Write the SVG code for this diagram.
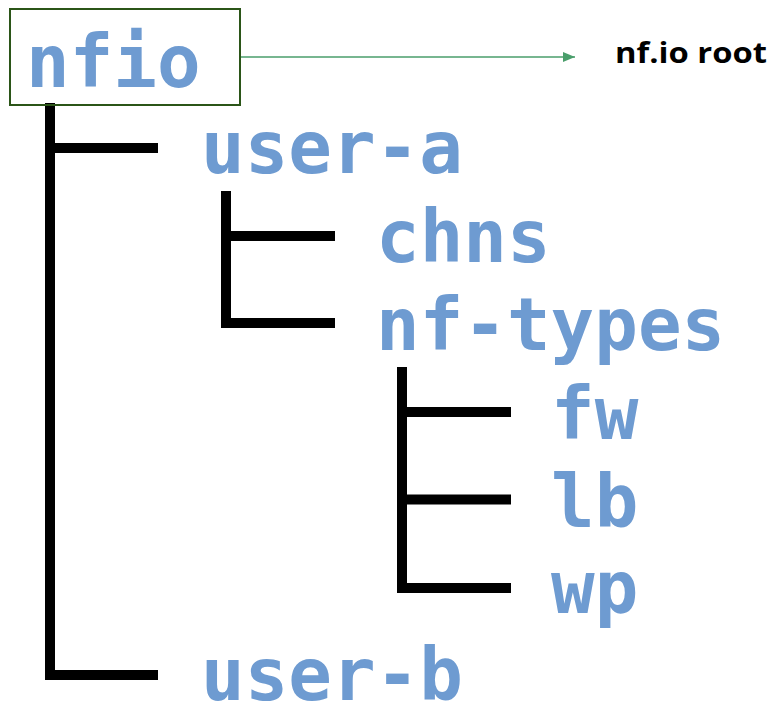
<svg xmlns="http://www.w3.org/2000/svg" width="773" height="705" viewBox="0 0 773 705">
<style>
.t{font-family:"DejaVu Sans Mono","Liberation Mono",monospace;font-weight:bold;font-size:72.5px;fill:#6e9bd1}
.br{fill:none;stroke:#000;stroke-width:10;stroke-linecap:butt;stroke-linejoin:miter}
.lbl{font-family:"Open Sans","Liberation Sans",sans-serif;font-weight:bold;font-size:29px;fill:#000}
</style>
<defs>
<marker id="ah" viewBox="0 0 12 10" refX="12" refY="5" markerWidth="12" markerHeight="10" markerUnits="userSpaceOnUse" orient="auto">
<path d="M0,0 L12,5 L0,10 Z" fill="#4a9e6b"/>
</marker>
</defs>
<rect width="773" height="705" fill="#fff"/>
<g id="connectors">
<path class="br" d="M50,103 V675 H158 M50,148 H158"/>
<path class="br" d="M226,191 V323 H335 M226,236 H335"/>
<path class="br" d="M402,367 V588 H511 M402,412 H511 M402,499.5 H511"/>
<line x1="241" y1="57" x2="575" y2="57" stroke="#4a9e6b" stroke-width="1.6" marker-end="url(#ah)"/>
</g>
<g id="nfio">
<rect x="10" y="9" width="230" height="96" fill="none" stroke="#2b5518" stroke-width="2"/>
<text class="t" x="26" y="87">nfio</text>
</g>
<g id="user-a"><text class="t" x="201" y="173">user-a</text></g>
<g id="chns"><text class="t" x="376" y="262">chns</text></g>
<g id="nf-types"><text class="t" x="376" y="350">nf-types</text></g>
<g id="fw"><text class="t" x="551" y="439">fw</text></g>
<g id="lb"><text class="t" x="551" y="527">lb</text></g>
<g id="wp"><text class="t" x="551" y="613">wp</text></g>
<g id="user-b"><text class="t" x="201" y="700">user-b</text></g>
<g id="label"><text class="lbl" x="615" y="63" textLength="152" lengthAdjust="spacingAndGlyphs">nf.io root</text></g>
</svg>
